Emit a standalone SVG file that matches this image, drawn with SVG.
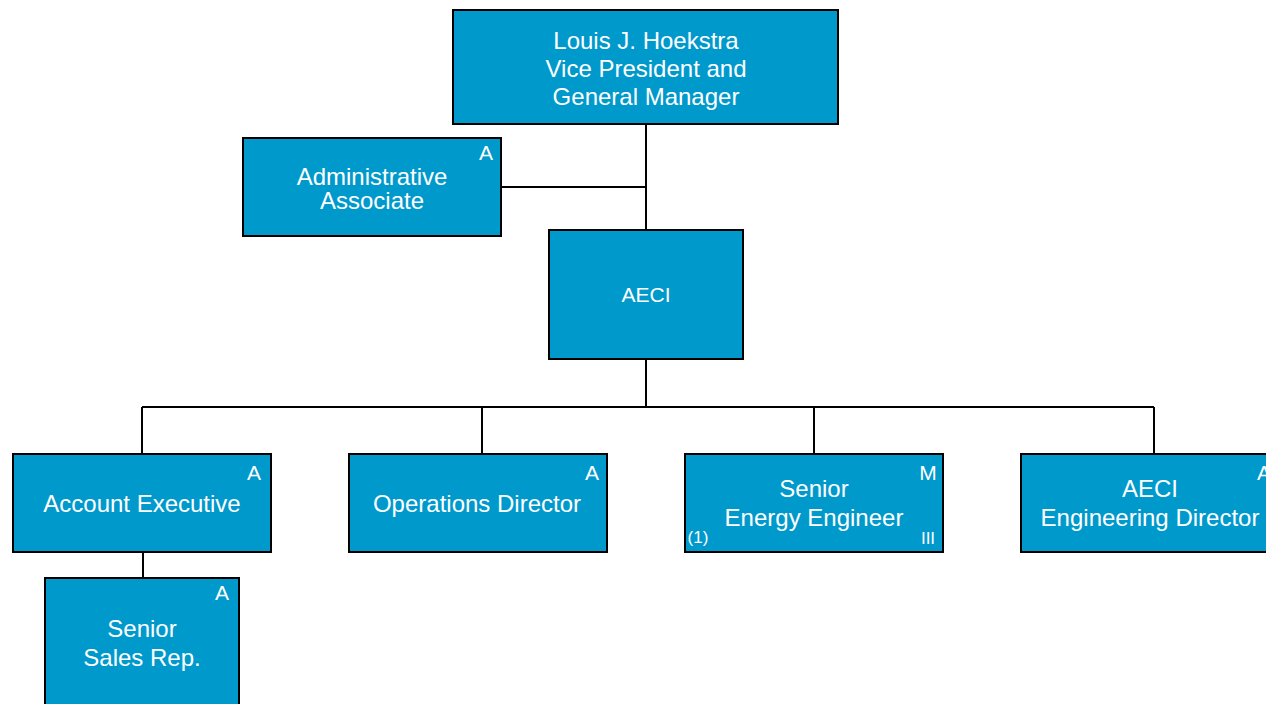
<svg xmlns="http://www.w3.org/2000/svg" width="1266" height="704" viewBox="0 0 1266 704">
<style>
.box{fill:#0099CC;stroke:#000;stroke-width:2}
.t{font-family:"Liberation Sans",Arial,sans-serif;font-size:24px;fill:#fff;text-anchor:middle}
.s{font-family:"Liberation Sans",Arial,sans-serif;font-size:21px;fill:#fff;text-anchor:middle}
.c{font-family:"Liberation Sans",Arial,sans-serif;font-size:21px;fill:#fff;text-anchor:middle}
.x{font-family:"Liberation Sans",Arial,sans-serif;font-size:17px;fill:#fff;text-anchor:middle}
.ln{stroke:#000;stroke-width:2;fill:none}
</style>
<rect width="1266" height="704" fill="#fff"/>
<g id="connectors">
<path class="ln" d="M646 124V230M501 187H646"/>
<path class="ln" d="M646 359V407M142 407H1154M142 407V454M482 407V454M814 407V454M1154 407V454"/>
<path class="ln" d="M143 552V578"/>
</g>
<g id="n-gm">
<rect class="box" x="453" y="10" width="385" height="114"/>
<text class="t" x="646" y="49">Louis J. Hoekstra</text>
<text class="t" x="646" y="77">Vice President and</text>
<text class="t" x="646" y="105">General Manager</text>
</g>
<g id="n-admin">
<rect class="box" x="243" y="138" width="258" height="98"/>
<text class="c" x="486" y="160">A</text>
<text class="t" x="372" y="185">Administrative</text>
<text class="t" x="372" y="209">Associate</text>
</g>
<g id="n-aeci">
<rect class="box" x="549" y="230" width="194" height="129"/>
<text class="s" x="646" y="302">AECI</text>
</g>
<g id="n-acct">
<rect class="box" x="13" y="454" width="258" height="98"/>
<text class="c" x="254" y="480">A</text>
<text class="t" x="142" y="512">Account Executive</text>
</g>
<g id="n-ops">
<rect class="box" x="349" y="454" width="258" height="98"/>
<text class="c" x="592" y="480">A</text>
<text class="t" x="477" y="512">Operations Director</text>
</g>
<g id="n-see">
<rect class="box" x="685" y="454" width="258" height="98"/>
<text class="c" x="928" y="480">M</text>
<text class="t" x="814" y="497">Senior</text>
<text class="t" x="814" y="526">Energy Engineer</text>
<text class="x" x="698" y="543">(1)</text>
<text class="x" x="928" y="544">III</text>
</g>
<g id="n-eng">
<rect class="box" x="1021" y="454" width="258" height="98"/>
<text class="c" x="1264" y="480">A</text>
<text class="t" x="1150" y="497">AECI</text>
<text class="t" x="1150" y="526">Engineering Director</text>
</g>
<g id="n-sales">
<rect class="box" x="45" y="578" width="194" height="140"/>
<text class="c" x="222" y="600">A</text>
<text class="t" x="142" y="637">Senior</text>
<text class="t" x="142" y="666">Sales Rep.</text>
</g>
</svg>
